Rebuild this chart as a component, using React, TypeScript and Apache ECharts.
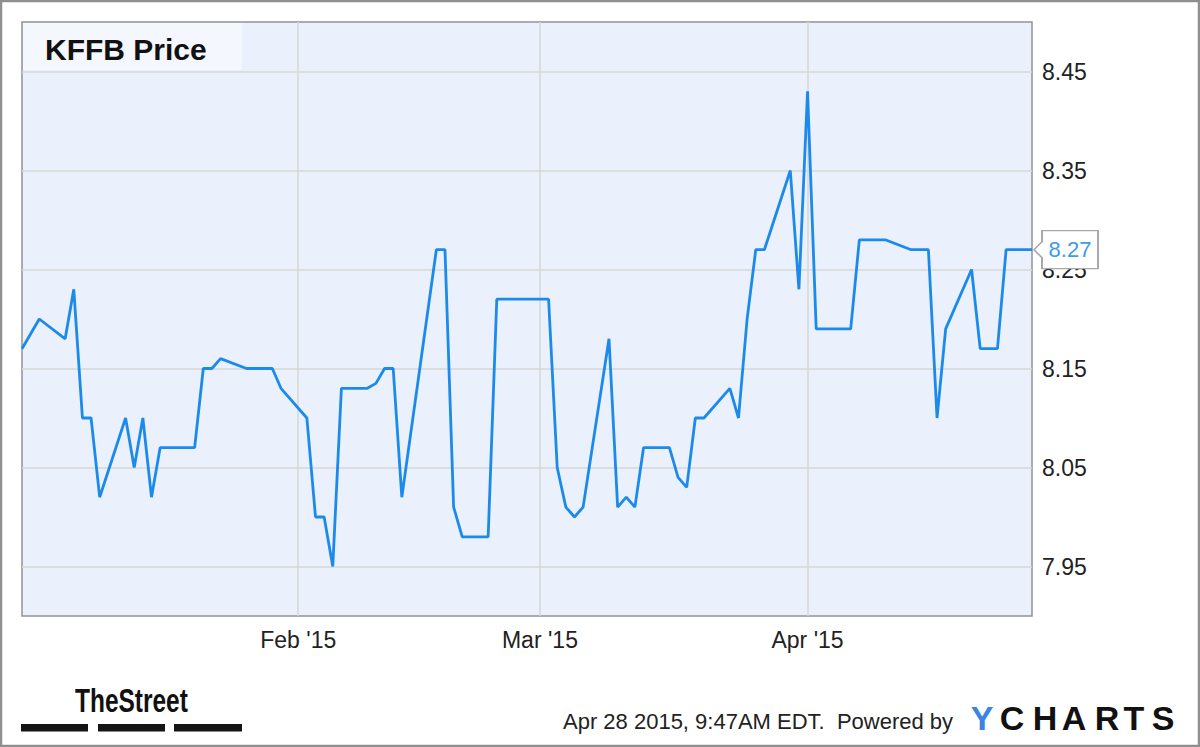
import React, { useEffect, useRef } from "react";
import * as echarts from "echarts";

// Trading dates and closing prices (KFFB)
const dates = [
  "2014-12-31", "2015-01-02", "2015-01-05", "2015-01-06", "2015-01-07", "2015-01-08", "2015-01-09",
  "2015-01-12", "2015-01-13", "2015-01-14", "2015-01-15", "2015-01-16", "2015-01-20", "2015-01-21",
  "2015-01-22", "2015-01-23", "2015-01-26", "2015-01-27", "2015-01-28", "2015-01-29", "2015-01-30",
  "2015-02-02", "2015-02-03", "2015-02-04", "2015-02-05", "2015-02-06", "2015-02-09", "2015-02-10",
  "2015-02-11", "2015-02-12", "2015-02-13", "2015-02-17", "2015-02-18", "2015-02-19", "2015-02-20",
  "2015-02-23", "2015-02-24", "2015-02-25", "2015-02-26", "2015-02-27", "2015-03-02", "2015-03-03",
  "2015-03-04", "2015-03-05", "2015-03-06", "2015-03-09", "2015-03-10", "2015-03-11", "2015-03-12",
  "2015-03-13", "2015-03-16", "2015-03-17", "2015-03-18", "2015-03-19", "2015-03-20", "2015-03-23",
  "2015-03-24", "2015-03-25", "2015-03-26", "2015-03-27", "2015-03-30", "2015-03-31", "2015-04-01",
  "2015-04-02", "2015-04-06", "2015-04-07", "2015-04-08", "2015-04-09", "2015-04-10", "2015-04-13",
  "2015-04-14", "2015-04-15", "2015-04-16", "2015-04-17", "2015-04-20", "2015-04-21", "2015-04-22",
  "2015-04-23", "2015-04-24", "2015-04-27",
];
const prices = [
  8.17, 8.2, 8.18, 8.23, 8.1, 8.1, 8.02,
  8.1, 8.05, 8.1, 8.02, 8.07, 8.07, 8.15,
  8.15, 8.16, 8.15, 8.15, 8.15, 8.15, 8.13,
  8.1, 8.0, 8.0, 7.95, 8.13, 8.13, 8.135,
  8.15, 8.15, 8.02, 8.27, 8.27, 8.01, 7.98,
  7.98, 8.22, 8.22, 8.22, 8.22, 8.22, 8.05,
  8.01, 8.0, 8.01, 8.18, 8.01, 8.02, 8.01,
  8.07, 8.07, 8.04, 8.03, 8.1, 8.1, 8.13,
  8.1, 8.2, 8.27, 8.27, 8.35, 8.23, 8.43,
  8.19, 8.19, 8.28, 8.28, 8.28, 8.28, 8.27,
  8.27, 8.27, 8.1, 8.19, 8.25, 8.17, 8.17,
  8.17, 8.27, 8.27,
];
const monthTicks = ["2015-02-01", "2015-03-01", "2015-04-01"];
const priceTicks = [7.95, 8.05, 8.15, 8.25, 8.35, 8.45];
const xRange = ["2014-12-31", "2015-04-27"];
const yRange = [7.9, 8.5];
const MONTHS = ["Jan", "Feb", "Mar", "Apr", "May", "Jun", "Jul", "Aug", "Sep", "Oct", "Nov", "Dec"];

const FONT = "'Liberation Sans', Arial, Helvetica, sans-serif";
const ts = (s: string) => Date.parse(s + "T00:00:00Z");

export default function App() {
  const ref = useRef<HTMLDivElement>(null);

  useEffect(() => {
    document.body.style.margin = "0";
    if (!ref.current) return;
    const chart = echarts.init(ref.current, undefined, { renderer: "svg" });
    const lastIdx = dates.length - 1;
    const monthTickValues = monthTicks.map(ts);

    const ychartsLetters = [
      { t: "Y", x: 982, c: "#3b84e2" },
      { t: "C", x: 1012, c: "#111" },
      { t: "H", x: 1045, c: "#111" },
      { t: "A", x: 1074, c: "#111" },
      { t: "R", x: 1107, c: "#111" },
      { t: "T", x: 1134, c: "#111" },
      { t: "S", x: 1163, c: "#111" },
    ];

    chart.setOption({
      animation: false,
      backgroundColor: "#ffffff",
      textStyle: { fontFamily: FONT },
      grid: {
        left: 22,
        right: 168,
        top: 22,
        bottom: 131,
        show: true,
        backgroundColor: "#eaf1fc",
        borderColor: "#939393",
        borderWidth: 1.5,
      },
      xAxis: {
        type: "value",
        min: ts(xRange[0]),
        max: ts(xRange[1]),
        axisLine: { show: false },
        axisTick: { show: false, customValues: monthTickValues },
        axisLabel: {
          customValues: monthTickValues,
          margin: 12,
          fontSize: 23,
          color: "#222",
          fontFamily: FONT,
          formatter: (v: number) => {
            const d = new Date(v);
            return `${MONTHS[d.getUTCMonth()]} '${String(d.getUTCFullYear()).slice(2)}`;
          },
        },
        splitLine: { show: true, lineStyle: { color: "#d6d6d6", width: 1.5 } },
      },
      yAxis: {
        type: "value",
        position: "right",
        min: yRange[0],
        max: yRange[1],
        axisLine: { show: false },
        axisTick: { show: false, customValues: priceTicks },
        axisLabel: {
          customValues: priceTicks,
          margin: 10,
          fontSize: 23,
          color: "#222",
          fontFamily: FONT,
          formatter: (v: number) => v.toFixed(2),
        },
        splitLine: { show: true, lineStyle: { color: "#d6d6d6", width: 1.5 } },
      },
      series: [
        {
          type: "line",
          data: dates.map((d, i) => [ts(d), prices[i]]),
          showSymbol: false,
          symbol: "none",
          clip: false,
          z: 3,
          lineStyle: { color: "#1c8aea", width: 2.8 },
          markPoint: {
            silent: true,
            symbol: "path://M0,19L8,11L8,0L64,0L64,38L8,38L8,27Z",
            symbolSize: [64, 38],
            symbolOffset: [34, 0],
            itemStyle: { color: "#ffffff", borderColor: "#a8a8a8", borderWidth: 1.5 },
            label: {
              show: true,
              position: "inside",
              offset: [4, 0],
              color: "#3d9be9",
              fontSize: 22,
              fontFamily: FONT,
              formatter: (p: any) => Number(p.value).toFixed(2),
            },
            data: [{ coord: [ts(dates[lastIdx]), prices[lastIdx]], value: prices[lastIdx] }],
          },
        },
      ],
      graphic: [
        {
          type: "rect",
          z: 1,
          shape: { x: 23, y: 23, width: 219, height: 47 },
          style: { fill: "#f4f8fe" },
        },
        {
          type: "text",
          z: 5,
          x: 45,
          y: 49,
          style: {
            text: "KFFB Price",
            fontSize: 30,
            fontWeight: "bold",
            fontFamily: FONT,
            fill: "#111",
            textVerticalAlign: "middle",
          },
        },
        {
          type: "text",
          z: 5,
          x: 75,
          y: 700,
          scaleX: 0.72,
          style: {
            text: "TheStreet",
            fontSize: 34,
            fontWeight: "bold",
            fontFamily: FONT,
            fill: "#111",
            textVerticalAlign: "middle",
          },
        },
        { type: "rect", z: 5, shape: { x: 21, y: 724, width: 67, height: 7.5 }, style: { fill: "#151515" } },
        { type: "rect", z: 5, shape: { x: 98, y: 724, width: 67, height: 7.5 }, style: { fill: "#151515" } },
        { type: "rect", z: 5, shape: { x: 174, y: 724, width: 68, height: 7.5 }, style: { fill: "#151515" } },
        {
          type: "text",
          z: 5,
          x: 563,
          y: 721,
          style: {
            text: "Apr 28 2015, 9:47AM EDT.  Powered by",
            fontSize: 22,
            fontFamily: FONT,
            fill: "#222",
            textVerticalAlign: "middle",
          },
        },
        ...ychartsLetters.map((l) => ({
          type: "text",
          z: 5,
          x: l.x,
          y: 718,
          style: {
            text: l.t,
            fontSize: 34,
            fontWeight: "bold",
            fontFamily: FONT,
            fill: l.c,
            textAlign: "center",
            textVerticalAlign: "middle",
          },
        })),
        {
          type: "rect",
          z: 10,
          shape: { x: 1, y: 1, width: 1198, height: 745 },
          style: { fill: "none", stroke: "#8f8f8f", lineWidth: 2.5 },
        },
      ],
    });

    return () => chart.dispose();
  }, []);

  return <div ref={ref} style={{ width: 1200, height: 747 }} />;
}
